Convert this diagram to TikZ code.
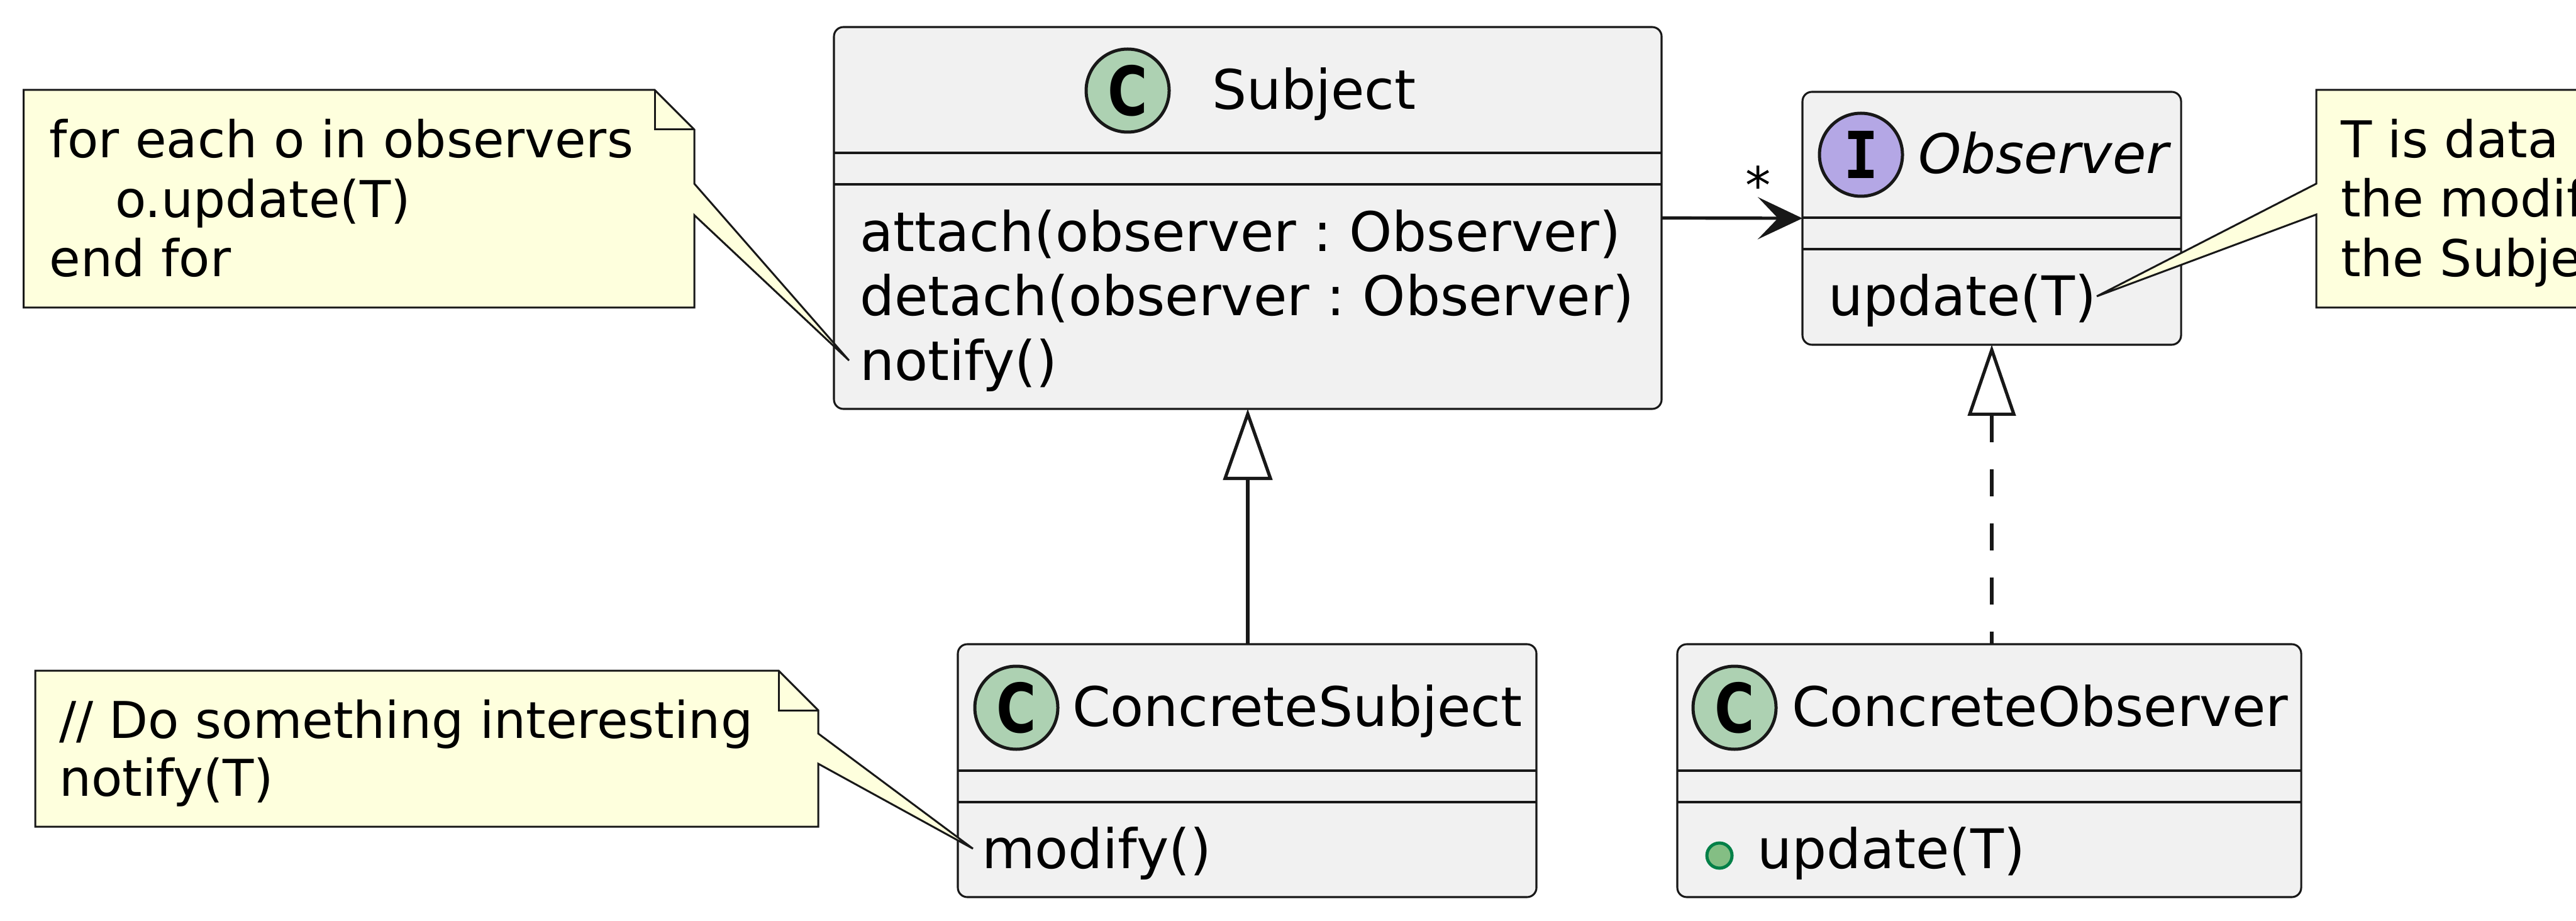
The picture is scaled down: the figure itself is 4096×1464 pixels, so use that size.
\documentclass[tikz,border=0pt]{standalone}
\usepackage{fontspec}
\usepackage{graphicx}
\setmainfont{DejaVu Sans}[ItalicFont={DejaVu Sans Oblique},BoldFont={DejaVu Sans Bold}]
\newfontfamily\spotmono{DejaVu Sans Mono}[BoldFont={DejaVu Sans Mono Bold}]
\usetikzlibrary{arrows.meta}
\definecolor{boxfill}{HTML}{F1F1F1}
\definecolor{edgecol}{HTML}{181818}
\definecolor{spotC}{HTML}{ADD1B2}
\definecolor{spotI}{HTML}{B4A7E5}
\definecolor{notefill}{HTML}{FEFFDD}
\definecolor{pubfill}{HTML}{84BE84}
\definecolor{pubedge}{HTML}{038048}
\frenchspacing
\tikzset{
  classbox/.style={draw=edgecol, fill=boxfill, line width=0.775pt, rounded corners=3.75pt,
    inner sep=0pt, outer sep=0pt, anchor=north west, rectangle},
  sepline/.style={draw=edgecol, line width=0.775pt},
  clsfont/.style={font=\fontsize{21.7pt}{25.75pt}\selectfont, inner sep=0pt, outer sep=0pt,
    anchor=base west, text=black},
  notefont/.style={font=\fontsize{20.15pt}{23.75pt}\selectfont, inner sep=0pt, outer sep=0pt,
    anchor=base west, text=black},
  spot/.style={circle, draw=edgecol, line width=1.25pt, minimum size=33pt, inner sep=0pt},
  spotC letter/.style={inner sep=0pt, font=\fontsize{27pt}{27pt}\selectfont\bfseries},
  spotI letter/.style={inner sep=0pt, font=\fontsize{25.75pt}{25.75pt}\selectfont\spotmono\bfseries},
  notebody/.style={draw=edgecol, fill=notefill, line width=0.75pt, line join=miter},
  foldline/.style={draw=edgecol, line width=0.75pt},
  link/.style={draw=edgecol, line width=1.3pt},
}
\begin{document}
\frenchspacing
\begin{tikzpicture}[x=0.25pt,y=-0.25pt]
\clip (0,0) rectangle (4096,1464);
\fill[white] (0,0) rectangle (4096,1464);

% ---------- Subject ----------
\node[classbox, minimum width=329pt, minimum height=151.75pt] (subj) at (1326,43) {};
\draw[sepline] ([yshift=-50pt]subj.north west) -- ([yshift=-50pt]subj.north east);
\draw[sepline] ([yshift=-62.5pt]subj.north west) -- ([yshift=-62.5pt]subj.north east);
\node[spot, fill=spotC] (subjspot) at (1793,144) {};
\node[spotC letter] (subjC) at (subjspot.center) {\scalebox{0.8}[1]{C}};
\node[clsfont] (subjname) at (1927,174) {Subject};
\node[clsfont] (subjm1) at (1367,400) {attach(observer : Observer)};
\node[clsfont] (subjm2) at (1367,502) {detach(observer : Observer)};
\node[clsfont] (subjm3) at (1367,605) {notify()};

% ---------- Observer ----------
\node[classbox, minimum width=150.5pt, minimum height=100.5pt] (obs) at (2866,146) {};
\draw[sepline] ([yshift=-50pt]obs.north west) -- ([yshift=-50pt]obs.north east);
\draw[sepline] ([yshift=-62.5pt]obs.north west) -- ([yshift=-62.5pt]obs.north east);
\node[spot, fill=spotI] (obsspot) at (2959,246) {};
\node[spotI letter] (obsI) at (obsspot.center) {\scalebox{0.9}[1]{I}};
\node[clsfont, font=\fontsize{21.7pt}{25.75pt}\selectfont\itshape] (obsname) at (3050,276) {Observer};
\node[clsfont] (obsm1) at (2907,502) {update(T)};

% ---------- ConcreteSubject ----------
\node[classbox, minimum width=230pt, minimum height=100.5pt] (cs) at (1523,1024) {};
\draw[sepline] ([yshift=-50.25pt]cs.north west) -- ([yshift=-50.25pt]cs.north east);
\draw[sepline] ([yshift=-62.75pt]cs.north west) -- ([yshift=-62.75pt]cs.north east);
\node[spot, fill=spotC] (csspot) at (1616,1125) {};
\node[spotC letter] (csC) at (csspot.center) {\scalebox{0.8}[1]{C}};
\node[clsfont] (csname) at (1705,1154) {ConcreteSubject};
\node[clsfont] (csm1) at (1561,1380) {modify()};

% ---------- ConcreteObserver ----------
\node[classbox, minimum width=248pt, minimum height=100.5pt] (co) at (2667,1024) {};
\draw[sepline] ([yshift=-50.25pt]co.north west) -- ([yshift=-50.25pt]co.north east);
\draw[sepline] ([yshift=-62.75pt]co.north west) -- ([yshift=-62.75pt]co.north east);
\node[spot, fill=spotC] (cospot) at (2758,1125) {};
\node[spotC letter] (coC) at (cospot.center) {\scalebox{0.8}[1]{C}};
\node[clsfont] (coname) at (2849,1154) {ConcreteObserver};
\node[circle, draw=pubedge, fill=pubfill, line width=1.25pt, minimum size=10pt, inner sep=0pt] (pubdot) at (2734,1360) {};
\node[clsfont] (com1) at (2794,1380) {update(T)};

% ---------- connectors ----------
\draw[link, -{Stealth[length=17.75pt 0, width=16.75pt 0, inset=8pt 0]}] (subj.east) -- (obs.west);
\node[notefont, anchor=base] (star) at (2796,324) {*};
\draw[link, {Triangle[open, length=28.25pt 0, width=19.5pt 0]}-] (subj.south) -- (subj.south |- cs.north);
\draw[link, dash pattern=on 10.75pt off 10.75pt, {Triangle[open, length=28.25pt 0, width=19pt 0]}-] (obs.south) -- (obs.south |- co.north);

% ---------- note 1 ----------
\coordinate (n1tip) at (1350,573);
\draw[notebody] (37.5,143) -- (1041,143) -- (1104,206) -- (1104,292) -- (n1tip) -- (1104,342) -- (1104,489) -- (37.5,489) -- cycle;
\draw[foldline] (1041,143) -- (1041,206) -- (1104,206);
\node[notefont] (n1a) at (79,251) {for each o in observers};
\node[notefont] (n1b) at (183,346) {o.update(T)};
\node[notefont] (n1c) at (79,440) {end for};

% ---------- note 2 ----------
\coordinate (n2tip) at (1547,1349);
\draw[notebody] (56,1066) -- (1238,1066) -- (1301,1129) -- (1301,1166) -- (n2tip) -- (1301,1214) -- (1301,1314) -- (56,1314) -- cycle;
\draw[foldline] (1238,1066) -- (1238,1129) -- (1301,1129);
\node[notefont] (n2a) at (94,1173) {// Do something interesting};
\node[notefont] (n2b) at (94,1265) {notify(T)};

% ---------- note 3 ----------
\coordinate (n3tip) at (3334,471);
\draw[notebody] (3683,143) -- (4200,143) -- (4200,489) -- (3683,489) -- (3683,341) -- (n3tip) -- (3683,292) -- cycle;
\node[notefont] (n3a) at (3722,251) {T is data};
\node[notefont] (n3b) at (3722,345) {the modif};
\node[notefont] (n3c) at (3722,440) {the Subje};
\end{tikzpicture}
\end{document}
